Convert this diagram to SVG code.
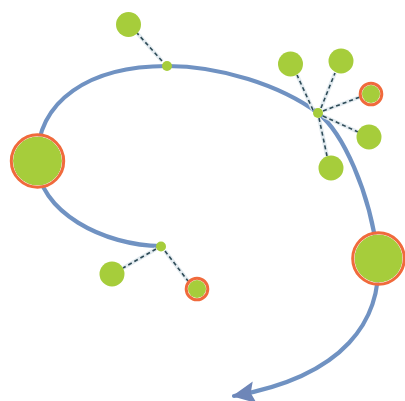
<svg xmlns="http://www.w3.org/2000/svg" width="405" height="401" viewBox="0 0 405 401">
<style>
.flow{fill:none;stroke:#7092c2;stroke-width:4.2;stroke-linecap:round}
.halo{stroke:#e3ebf0;stroke-width:4;fill:none}
.dash{stroke:#2e4b57;stroke-width:1.6;stroke-dasharray:4 3;fill:none}
.g{fill:#a6cd3b}
.ring{fill:none;stroke:#f06a3c;stroke-width:3}
.gap{fill:none;stroke:#f7f3e6;stroke-width:1}
</style>
<defs>
<marker id="arr" markerUnits="userSpaceOnUse" markerWidth="26" markerHeight="24" refX="21" refY="11" orient="auto">
<path d="M0,0 L23,11 L0,22 L4,11 z" fill="#6e86b8"/>
</marker>
</defs>
<g id="connectors">
<path class="flow" marker-end="url(#arr)" d="M161,246 C105,246 37,212 37,161 C37,100 90,66 167,66 C220,66 280,85 318,113 C342,132 370,190 378,258 C382,320 345,376 234,396"/>
<g id="links">
<path class="halo" d="M162,61 L137,33 M313,110 L297,75 M321,108 L335,73 M323,111 L360,97 M323,116 L358,132 M319,118 L327,156 M156,249 L123,268 M165,251 L188,281"/>
<path class="dash" d="M162,61 L137,33 M313,110 L297,75 M321,108 L335,73 M323,111 L360,97 M323,116 L358,132 M319,118 L327,156 M156,249 L123,268 M165,251 L188,281"/>
</g>
</g>
<g id="hub-top"><circle class="g" cx="167" cy="66" r="5"/></g>
<g id="leaf-top"><circle class="g" cx="128.5" cy="24.5" r="12.5"/></g>
<g id="hub-right"><circle class="g" cx="318" cy="113" r="5"/></g>
<g id="leaf-r1"><circle class="g" cx="290.5" cy="64" r="12.5"/></g>
<g id="leaf-r2"><circle class="g" cx="341" cy="61" r="12.5"/></g>
<g id="leaf-r3"><circle class="g" cx="371" cy="94" r="9"/><circle class="ring" cx="371" cy="94" r="10.8"/></g>
<g id="leaf-r4"><circle class="g" cx="369" cy="137" r="12.5"/></g>
<g id="leaf-r5"><circle class="g" cx="331" cy="168" r="12.5"/></g>
<g id="hub-bottom"><circle class="g" cx="161" cy="246.5" r="5"/></g>
<g id="leaf-b1"><circle class="g" cx="112" cy="274" r="12.5"/></g>
<g id="leaf-b2"><circle class="g" cx="197" cy="289" r="9"/><circle class="ring" cx="197" cy="289" r="10.8"/></g>
<g id="big-left"><circle class="g" cx="37.5" cy="161" r="24.5"/><circle class="gap" cx="37.5" cy="161" r="25"/><circle class="ring" cx="37.5" cy="161" r="26.2"/></g>
<g id="big-right"><circle class="g" cx="378.5" cy="258.5" r="24"/><circle class="gap" cx="378.5" cy="258.5" r="24.6"/><circle class="ring" cx="378.5" cy="258.5" r="25.8"/></g>
</svg>
